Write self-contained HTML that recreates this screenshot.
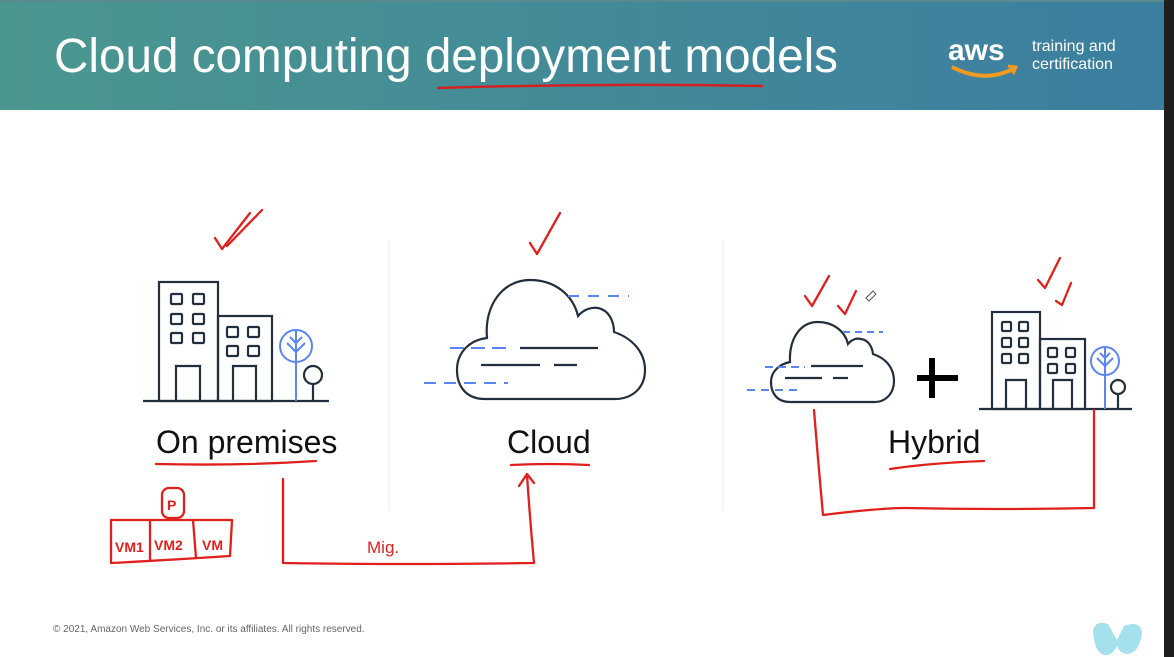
<!DOCTYPE html>
<html><head><meta charset="utf-8"><style>
html,body{margin:0;padding:0;width:1174px;height:657px;overflow:hidden;background:#fff}
svg{display:block}
</style></head><body>
<svg width="1174" height="657" viewBox="0 0 1174 657" xmlns="http://www.w3.org/2000/svg">
<defs>
<linearGradient id="hg" x1="0" y1="0" x2="1" y2="0">
<stop offset="0" stop-color="#4a978f"/><stop offset="0.5" stop-color="#438a98"/><stop offset="1" stop-color="#3b7ea0"/>
</linearGradient>
</defs>
<rect x="0" y="0" width="1174" height="110" fill="url(#hg)"/>
<rect x="0" y="0" width="1174" height="2" fill="#5a8a90"/>
<rect x="1164" y="0" width="10" height="657" fill="#1e1e1e"/>
<text x="54" y="72" font-family="Liberation Sans, sans-serif" font-size="48" fill="#fff" textLength="784" lengthAdjust="spacingAndGlyphs">Cloud computing deployment models</text>
<path d="M437 88 Q600 83 763 86" stroke="#d42020" stroke-width="2.5" fill="none"/>
<text x="948" y="60" font-family="Liberation Sans, sans-serif" font-size="30" font-weight="bold" fill="#fff">aws</text>
<path d="M952 67 Q985 84 1015 68" stroke="#f29a1f" stroke-width="4" fill="none"/>
<path d="M1008 66 L1016 67 L1013 74" stroke="#f29a1f" stroke-width="3" fill="none"/>
<text x="1032" y="51" font-family="Liberation Sans, sans-serif" font-size="16" fill="#fff">training and</text>
<text x="1032" y="69" font-family="Liberation Sans, sans-serif" font-size="16" fill="#fff">certification</text>

<line x1="389" y1="240" x2="389" y2="510" stroke="#eee" stroke-width="1"/>
<line x1="723" y1="240" x2="723" y2="510" stroke="#eee" stroke-width="1"/>

<g fill="none" stroke="#232f3e" stroke-width="2.2">
<line x1="143" y1="401" x2="329" y2="401"/>
<rect x="159" y="282" width="59" height="119"/>
<rect x="218" y="316" width="54" height="85"/>
<rect x="171" y="294" width="11" height="10" rx="1"/><rect x="193" y="294" width="11" height="10" rx="1"/>
<rect x="171" y="314" width="11" height="10" rx="1"/><rect x="193" y="314" width="11" height="10" rx="1"/>
<rect x="171" y="333" width="11" height="10" rx="1"/><rect x="193" y="333" width="11" height="10" rx="1"/>
<rect x="227" y="327" width="11" height="10" rx="1"/><rect x="248" y="327" width="11" height="10" rx="1"/>
<rect x="227" y="346" width="11" height="10" rx="1"/><rect x="248" y="346" width="11" height="10" rx="1"/>
<path d="M176 401 V366 H200 V401"/><path d="M233 401 V366 H256 V401"/>
<circle cx="313" cy="375" r="9"/><line x1="313" y1="384" x2="313" y2="401"/>
<path d="M485 399 C465 399 457 385 457 370 C457 352 470 340 487 338 C484 305 503 280 530 280 C555 280 573 295 578 316 C584 309 592 307 598 308 C608 310 614 320 614 332 C632 338 645 352 645 370 C645 388 632 399 615 399 Z"/>
<line x1="520" y1="348" x2="598" y2="348"/>
<line x1="481" y1="365" x2="540" y2="365"/><line x1="554" y1="365" x2="577" y2="365"/>
<path d="M790 402 C777 402 771 393 771 382 C771 371 780 364 790 362 C789 339 800 322 818 322 C833 322 845 331 848 344 C852 339 857 338 861 339 C868 340 872 346 873 354 C885 358 894 367 894 381 C894 394 885 402 875 402 Z"/>
<line x1="811" y1="366" x2="863" y2="366"/>
<line x1="785" y1="378" x2="822" y2="378"/><line x1="833" y1="378" x2="848" y2="378"/>
<line x1="979" y1="409" x2="1132" y2="409"/>
<rect x="992" y="312" width="48" height="97"/>
<rect x="1040" y="339" width="45" height="70"/>
<rect x="1002" y="322" width="9" height="9" rx="1"/><rect x="1019" y="322" width="9" height="9" rx="1"/>
<rect x="1002" y="338" width="9" height="9" rx="1"/><rect x="1019" y="338" width="9" height="9" rx="1"/>
<rect x="1002" y="354" width="9" height="9" rx="1"/><rect x="1019" y="354" width="9" height="9" rx="1"/>
<rect x="1048" y="348" width="9" height="9" rx="1"/><rect x="1066" y="348" width="9" height="9" rx="1"/>
<rect x="1048" y="364" width="9" height="9" rx="1"/><rect x="1066" y="364" width="9" height="9" rx="1"/>
<path d="M1006 409 V380 H1026 V409"/><path d="M1053 409 V380 H1072 V409"/>
<circle cx="1118" cy="387" r="7"/><line x1="1118" y1="394" x2="1118" y2="409"/>
</g>
<g fill="none" stroke="#5b86f0" stroke-width="2">
<circle cx="296" cy="346" r="16"/><path d="M296 330 V401 M296 352 L287 343 M296 352 L305 343 M296 343 L290 337 M296 343 L302 337"/>
<circle cx="1105" cy="361" r="14"/><path d="M1105 347 V409 M1105 366 L1097 358 M1105 366 L1113 358 M1105 358 L1100 353 M1105 358 L1110 353"/>
<path d="M568 296 H629" stroke-dasharray="11 9"/>
<path d="M450 348 H512" stroke-dasharray="14 7"/>
<path d="M424 383 H508" stroke-dasharray="12 8"/>
<path d="M843 332 H883" stroke-dasharray="7 5"/>
<path d="M765 367 H805" stroke-dasharray="8 5"/>
<path d="M747 390 H803" stroke-dasharray="8 6"/>
</g>
<path d="M932 358 V398 M917 378 H958" stroke="#000" stroke-width="6"/>

<g font-family="Liberation Sans, sans-serif" font-size="32" fill="#111">
<text x="156" y="453">On premises</text>
<text x="507" y="453">Cloud</text>
<text x="888" y="453">Hybrid</text>
</g>

<g fill="none" stroke="#e0201c" stroke-width="2.3" stroke-linecap="round" stroke-linejoin="round">
<path d="M156 464 Q240 466 316 461"/>
<path d="M511 465 Q550 463 589 465"/>
<path d="M890 469 Q930 463 984 461"/>
<path d="M215 238 L222 249 L250 213 M227 246 L262 210"/>
<path d="M530 243 L537 254 L560 213"/>
<path d="M805 296 L812 306 L829 276 M838 306 L845 314 L856 291"/>
<path d="M1038 280 L1045 288 L1060 258 M1056 301 L1062 305 L1071 283"/>
<path d="M283 479 V563 Q400 565 534 563 Q530 520 527 475 M519 486 L527 474 L534 483"/>
<path d="M111 520 H232 L230 556 Q170 560 111 563 Z M150 520 V561 M193 520 L196 558"/>
<rect x="162" y="488" width="22" height="30" rx="7"/>
<path d="M814 410 Q818 460 823 515 Q880 508 905 508 Q1000 510 1094 508 V410"/>
</g>
<g font-family="Liberation Sans, sans-serif" font-size="14" fill="#e0201c" font-weight="bold">
<text x="115" y="552">VM1</text><text x="154" y="550">VM2</text><text x="202" y="550">VM</text>
<text x="167" y="510">P</text>
<text x="367" y="553" font-size="17" font-weight="normal">Mig.</text>
</g>
<path d="M866 298 L873 291 L876 294 L869 301 Z" fill="#fff" stroke="#555" stroke-width="1"/>

<text x="53" y="632" font-family="Liberation Sans, sans-serif" font-size="10" fill="#666">© 2021, Amazon Web Services, Inc. or its affiliates. All rights reserved.</text>
<path d="M1093 630 Q1096 620 1108 624 L1117 640 L1124 626 Q1140 620 1142 632 Q1140 652 1128 654 Q1120 654 1117 646 Q1112 656 1104 655 Q1094 652 1093 630 Z" fill="#8fd8e8" opacity="0.8"/>
</svg>
</body></html>
